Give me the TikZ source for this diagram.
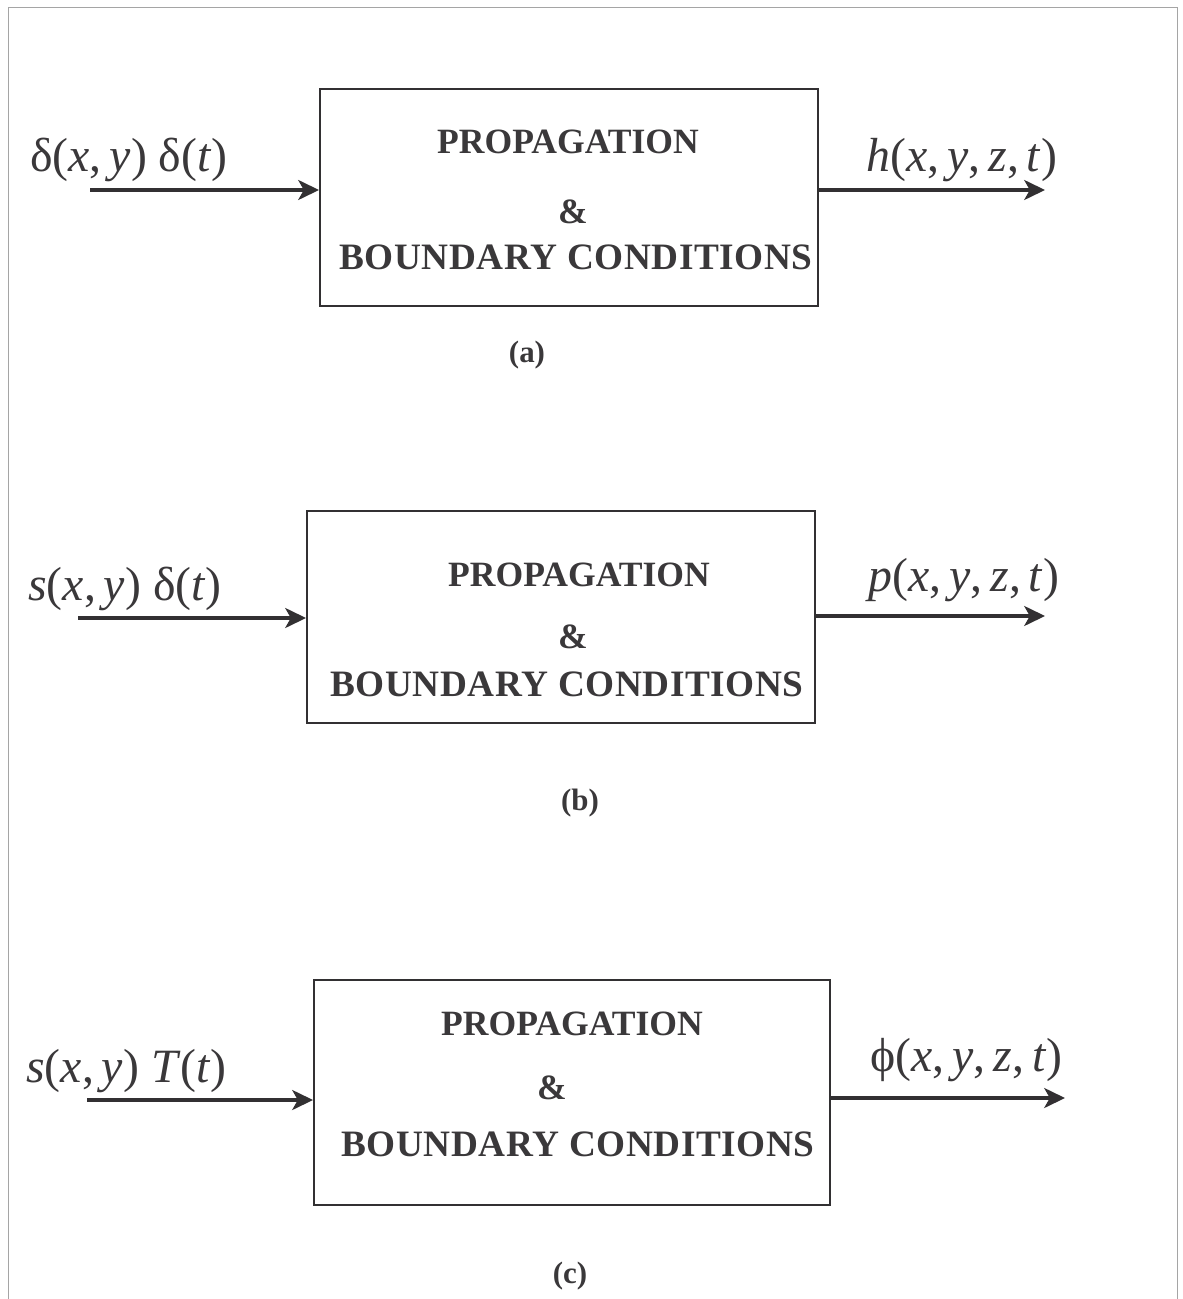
\documentclass[tikz,border=0pt]{standalone}
\usepackage{fontspec}
\setmainfont{Liberation Serif}
\usepackage{tikz}
\usetikzlibrary{arrows.meta, positioning}
\usepackage{xcolor}
\definecolor{zink}{RGB}{58, 56, 58}
\definecolor{zline}{RGB}{50, 48, 50}
\definecolor{zframe}{RGB}{165, 165, 165}
\newcommand{\vi}[1]{\textit{#1}}

\begin{document}
\begin{tikzpicture}[x=0.025cm, y=-0.025cm,
  blockbox/.style={rectangle, draw=zline, line width=1.3pt, inner sep=0pt},
  boxtext/.style={anchor=base, font=\fontsize{25.3}{30}\selectfont\bfseries, text=zink, inner sep=0pt},
  bcontext/.style={boxtext, font=\fontsize{26.5}{31}\selectfont\bfseries\addfontfeature{LetterSpace=1.5}},
  lbl/.style={anchor=base west, font=\fontsize{34}{40}\selectfont, text=zink, inner sep=0pt},
  captext/.style={anchor=base, font=\fontsize{22}{26}\selectfont\bfseries, text=zink, inner sep=0pt},
  arr/.style={-{Stealth[length=0.52cm, width=0.5cm, inset=0.14cm]}, line width=2.2pt, zline},
  framel/.style={draw=zframe, line width=0.6pt}
]
\useasboundingbox (0,0) rectangle (1182,1299);

% Scan frame
\draw[framel] (8,1299) -- (8,7) -- (1177,7) -- (1177,1299);

% (a) impulse response
\node[blockbox, minimum width=12.45cm, minimum height=5.425cm] (boxa) at (569,197.5) {};
\node[boxtext]  (propa) at (568,153.5) {PROPAGATION};
\node[boxtext]  (ampa)  at (573,224)   {\&};
\node[bcontext] (bcona) at (576,270)   {BOUNDARY CONDITIONS};
\node[lbl] (ina-l)  at (30,172)  {δ(\vi{x},\,\vi{y}) δ(\vi{t})};
\node[lbl] (outa-l) at (866,172) {\vi{h}(\vi{x},\,\vi{y},\,\vi{z},\,\vi{t})};
\node[captext] (capa) at (527,362) {(a)};

\coordinate (ina)  at (90,190);
\coordinate (outa) at (1045,190);
\draw[arr] (ina) -- (ina -| boxa.west);
\draw[arr] (outa -| boxa.east) -- (outa);

% (b) pressure field
\node[blockbox, minimum width=12.7cm, minimum height=5.3cm] (boxb) at (561,617) {};
\node[boxtext]  (propb) at (579,586) {PROPAGATION};
\node[boxtext]  (ampb)  at (573,648) {\&};
\node[bcontext] (bconb) at (567,696) {BOUNDARY CONDITIONS};
\node[lbl] (inb-l)  at (28,600)  {\vi{s}(\vi{x},\,\vi{y}) δ(\vi{t})};
\node[lbl] (outb-l) at (868,591) {\vi{p}(\vi{x},\,\vi{y},\,\vi{z},\,\vi{t})};
\node[captext] (capb) at (580,810) {(b)};

\coordinate (inb)  at (78,618);
\coordinate (outb) at (1045,616);
\draw[arr] (inb) -- (inb -| boxb.west);
\draw[arr] (outb -| boxb.east) -- (outb);

% (c) velocity potential
\node[blockbox, minimum width=12.9cm, minimum height=5.625cm] (boxc) at (572,1092.5) {};
\node[boxtext]  (propc) at (572,1035) {PROPAGATION};
\node[boxtext]  (ampc)  at (552,1099) {\&};
\node[bcontext] (bconc) at (578,1156) {BOUNDARY CONDITIONS};
\node[lbl] (inc-l)  at (26,1082) {\vi{s}(\vi{x},\,\vi{y}) \vi{T}(\vi{t})};
\node[lbl] (outc-l) at (870,1071) {ϕ(\vi{x},\,\vi{y},\,\vi{z},\,\vi{t})};
\node[captext] (capc) at (570,1283) {(c)};

\coordinate (inc)  at (87,1100);
\coordinate (outc) at (1065,1098);
\draw[arr] (inc) -- (inc -| boxc.west);
\draw[arr] (outc -| boxc.east) -- (outc);

\end{tikzpicture}
\end{document}
